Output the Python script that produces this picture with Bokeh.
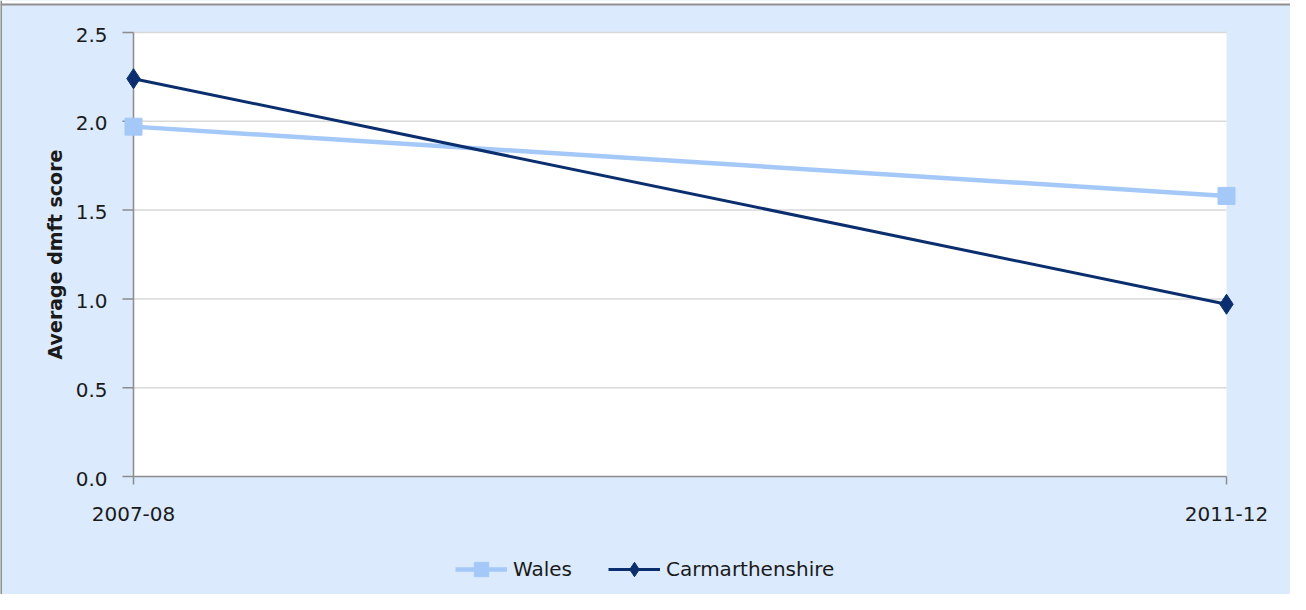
import math
from bokeh.plotting import figure
from bokeh.models import Range1d, Legend, LegendItem, BoxAnnotation, Span
from bokeh.core.properties import value
from bokeh.embed import file_html
from bokeh.resources import INLINE

periods = ["2007-08", "2011-12"]
wales = [1.97, 1.58]
carmarthenshire = [2.24, 0.97]
y_ticks = [0.0, 0.5, 1.0, 1.5, 2.0, 2.5]

xs = list(range(len(periods)))

# ---- layout (pixels inside the 1290 x 594 figure) ----
W, H = 1290, 594
AREA_L, AREA_R = 133, 1226      # plot area left/right edge
AREA_T, AREA_B = 32, 476        # plot area top/bottom edge
px_x = (AREA_R - AREA_L) / (xs[-1] - xs[0])
px_y = (AREA_B - AREA_T) / (y_ticks[-1] - y_ticks[0])
x_range = Range1d(xs[0] - AREA_L / px_x, xs[-1] + (W - AREA_R) / px_x)
y_range = Range1d(y_ticks[0] - (H - AREA_B) / px_y, y_ticks[-1] + AREA_T / px_y)

BG = "#dbeafd"
FONT = "DejaVu Sans"
TXT = "#1a1a1a"
AXC = "#8c8c8c"

p = figure(width=W, height=H, output_backend="svg", toolbar_location=None,
           x_range=x_range, y_range=y_range, x_axis_location=None, y_axis_location=None,
           min_border=0, min_border_left=0, min_border_right=0,
           min_border_top=0, min_border_bottom=0)
p.background_fill_color = BG
p.border_fill_color = BG
p.outline_line_color = None
p.xgrid.grid_line_color = None
p.ygrid.grid_line_color = None

# chart border (top and left edges are visible in the reference)
top_line = y_range.end - 4 / px_y
p.add_layout(BoxAnnotation(bottom=top_line, fill_color="white", fill_alpha=1,
                           line_color=None, level="underlay"))
p.add_layout(Span(location=top_line, dimension="width", line_color="#909090", line_width=2))
p.add_layout(Span(location=x_range.start, dimension="height", line_color="#909090", line_width=3))

# white plotting area
p.add_layout(BoxAnnotation(left=xs[0], right=xs[-1], bottom=y_ticks[0], top=y_ticks[-1],
                           fill_color="white", fill_alpha=1, line_color=None, level="underlay"))

n = len(y_ticks)
# gridlines
p.segment(x0=[xs[0]] * (n - 1), x1=[xs[-1]] * (n - 1), y0=y_ticks[1:], y1=y_ticks[1:],
          line_color="#d9d9d9", line_width=1.5)
# y axis line and ticks
p.segment(x0=[xs[0]], x1=[xs[0]], y0=[y_ticks[0]], y1=[y_ticks[-1]], line_color=AXC, line_width=1.5)
p.segment(x0=[xs[0] - 11 / px_x] * n, x1=[xs[0]] * n, y0=y_ticks, y1=y_ticks,
          line_color=AXC, line_width=1.5)
# x axis line and ticks
p.segment(x0=[xs[0]], x1=[xs[-1]], y0=[y_ticks[0]], y1=[y_ticks[0]], line_color=AXC, line_width=1.5)
p.segment(x0=xs, x1=xs, y0=[y_ticks[0]] * len(xs), y1=[y_ticks[0] - 8 / px_y] * len(xs),
          line_color=AXC, line_width=1.5)

# tick labels
p.text(x=[xs[0]] * n, y=y_ticks, text=[f"{v:.1f}" for v in y_ticks],
       x_offset=-26, y_offset=2, text_align="right", text_baseline="middle",
       text_font=value(FONT), text_font_size=value("20px"), text_color=TXT)
p.text(x=xs, y=[y_ticks[0]] * len(xs), text=periods,
       y_offset=37, text_align="center", text_baseline="middle",
       text_font=value(FONT), text_font_size=value("20px"), text_color=TXT)
# axis title
p.text(x=[xs[0]], y=[(y_ticks[0] + y_ticks[-1]) / 2], text=["Average dmft score"],
       x_offset=-79, angle=math.pi / 2, text_align="center", text_baseline="middle",
       text_font=value(FONT), text_font_size=value("19px"), text_font_style="bold",
       text_color=TXT)

# series
wc = "#a4c8f8"
cc = "#0b2e6e"
wl = p.line(xs, wales, line_color=wc, line_width=4.5)
ws = p.scatter(xs, wales, marker="square", size=17, fill_color=wc, line_color=wc)
cl = p.line(xs, carmarthenshire, line_color=cc, line_width=3)
cs = p.scatter(xs, carmarthenshire, marker="diamond", size=20, fill_color=cc, line_color=cc)

legend = Legend(items=[LegendItem(label="Wales", renderers=[wl, ws]),
                       LegendItem(label="Carmarthenshire", renderers=[cl, cs])],
                orientation="horizontal", location=(455, 7))
legend.background_fill_alpha = 0
legend.border_line_color = None
legend.padding = 0
legend.margin = 0
legend.glyph_width = 52
legend.glyph_height = 36
legend.label_standoff = 6
legend.spacing = 36
legend.label_text_font = FONT
legend.label_text_font_size = "20px"
legend.label_text_color = TXT
p.add_layout(legend, "center")

open("out.html", "w").write(file_html(p, INLINE))
